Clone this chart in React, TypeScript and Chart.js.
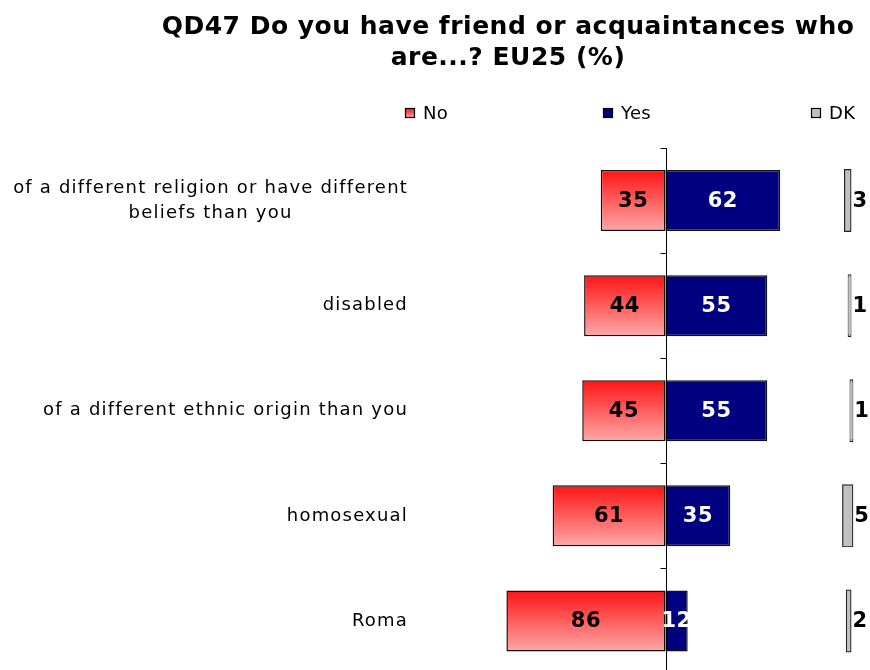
import React, { useEffect, useRef } from "react";
import { Chart, registerables } from "chart.js";

Chart.register(...registerables);

const TITLE_LINES = ["QD47 Do you have friend or acquaintances who", "are...? EU25 (%)"];
const CATEGORIES = [
  ["of a different religion or have different", "beliefs than you"],
  ["disabled"],
  ["of a different ethnic origin than you"],
  ["homosexual"],
  ["Roma"],
];
const NO_VALUES = [35, 44, 45, 61, 86];
const YES_VALUES = [62, 55, 55, 35, 12];
const DK_VALUES = [3, 1, 1, 5, 2];
const SERIES_NAMES = ["No", "Yes", "DK"];

const X_MIN = -130;
const X_MAX = 110;
const BAR_FRACTION = 0.58;

const FONT = "'DejaVu Sans', Verdana, sans-serif";
const NAVY = "#000080";
const SILVER = "#C0C0C0";
const RED_TOP = "#FF1414";
const RED_BOTTOM = "#FFA8A8";

function redGradient(ctx: CanvasRenderingContext2D, y0: number, y1: number) {
  const g = ctx.createLinearGradient(0, y0, 0, y1);
  g.addColorStop(0, RED_TOP);
  g.addColorStop(1, RED_BOTTOM);
  return g;
}

const decorPlugin = {
  id: "decor",
  afterDatasetsDraw(chart: any) {
    const { ctx, chartArea, scales } = chart;
    const xs = scales.x;
    const ys = scales.y;
    const x0 = Math.round(xs.getPixelForValue(0)) + 0.5;
    ctx.save();
    ctx.strokeStyle = "#000";
    ctx.lineWidth = 1;
    ctx.beginPath();
    ctx.moveTo(x0, chartArea.top);
    ctx.lineTo(x0, chartArea.bottom);
    ctx.stroke();
    for (let i = 0; i <= CATEGORIES.length; i++) {
      const y = Math.round(ys.getPixelForValue(i - 0.5)) + 0.5;
      ctx.beginPath();
      ctx.moveTo(x0 - 6, y);
      ctx.lineTo(x0, y);
      ctx.stroke();
    }

    (ctx as any).letterSpacing = "0.5px";
    ctx.font = `bold 21px ${FONT}`;
    ctx.textBaseline = "middle";
    const metaNo = chart.getDatasetMeta(0);
    const metaYes = chart.getDatasetMeta(1);
    const metaDk = chart.getDatasetMeta(3);
    metaNo.data.forEach((el: any, i: number) => {
      const { x, base, y } = el.getProps(["x", "base", "y"], true);
      ctx.fillStyle = "#000";
      ctx.textAlign = "center";
      ctx.fillText(String(NO_VALUES[i]), (x + base) / 2, y + 1);
    });
    metaYes.data.forEach((el: any, i: number) => {
      const { x, base, y } = el.getProps(["x", "base", "y"], true);
      ctx.fillStyle = "#fff";
      ctx.textAlign = "center";
      ctx.fillText(String(YES_VALUES[i]), (x + base) / 2, y + 1);
    });
    metaDk.data.forEach((el: any, i: number) => {
      const { x, y } = el.getProps(["x", "y"], true);
      ctx.fillStyle = "#000";
      ctx.textAlign = "left";
      ctx.fillText(String(DK_VALUES[i]), x + 2, y + 1);
    });

    (ctx as any).letterSpacing = "1.2px";
    ctx.font = `18px ${FONT}`;
    ctx.fillStyle = "#000";
    ctx.textAlign = "center";
    const right = chartArea.left - 17;
    const lineH = 25;
    CATEGORIES.forEach((lines, i) => {
      const yc = ys.getPixelForValue(i);
      const w = Math.max(...lines.map((l) => ctx.measureText(l).width));
      const cx = right - w / 2;
      lines.forEach((l, k) => {
        const y = yc + (k - (lines.length - 1) / 2) * lineH;
        ctx.fillText(l, cx, y);
      });
    });
    ctx.restore();
  },
  afterDraw(chart: any) {
    const { ctx } = chart;
    ctx.save();
    (ctx as any).letterSpacing = "0.5px";
    ctx.font = `bold 25px ${FONT}`;
    ctx.fillStyle = "#000";
    ctx.textAlign = "center";
    ctx.textBaseline = "alphabetic";
    ctx.fillText(TITLE_LINES[0], 508, 34);
    ctx.fillText(TITLE_LINES[1], 508, 65);

    (ctx as any).letterSpacing = "0.3px";
    ctx.font = `18px ${FONT}`;
    ctx.textBaseline = "middle";
    ctx.textAlign = "left";
    const items = [
      { name: SERIES_NAMES[0], x: 405, fill: redGradient(ctx, 108, 118) as any },
      { name: SERIES_NAMES[1], x: 603, fill: NAVY },
      { name: SERIES_NAMES[2], x: 811, fill: SILVER },
    ];
    items.forEach((it) => {
      ctx.fillStyle = it.fill;
      ctx.fillRect(it.x, 108, 10, 10);
      ctx.strokeStyle = "#000";
      ctx.lineWidth = 1.2;
      ctx.strokeRect(it.x + 0.5, 108.5, 9, 9);
      ctx.fillStyle = "#000";
      ctx.fillText(it.name, it.x + 18, 114);
    });
    ctx.restore();
  },
};

export default function App() {
  const ref = useRef<HTMLCanvasElement | null>(null);
  useEffect(() => {
    if (!ref.current) return;
    const chart = new Chart(ref.current, {
      type: "bar",
      data: {
        labels: CATEGORIES.map((c) => c.join(" ")),
        datasets: [
          {
            label: SERIES_NAMES[0],
            data: NO_VALUES.map((v) => -v),
            backgroundColor: (c: any) => {
              const ch = c.chart;
              const ys = ch.scales?.y;
              if (!ys || !ch.chartArea || c.type !== "data") return RED_TOP;
              const p0 = ys.getPixelForValue(0);
              const p1 = ys.getPixelForValue(1);
              const yc = ys.getPixelForValue(c.dataIndex);
              if (![p0, p1, yc].every((v) => Number.isFinite(v))) return RED_TOP;
              const h = (p1 - p0) * BAR_FRACTION;
              if (!(h > 0)) return RED_TOP;
              return redGradient(ch.ctx, yc - h / 2, yc + h / 2);
            },
            borderColor: "#111",
            borderWidth: 1.5,
            borderSkipped: false,
          },
          {
            label: SERIES_NAMES[1],
            data: YES_VALUES,
            backgroundColor: NAVY,
            borderColor: "#111",
            borderWidth: 1.5,
            borderSkipped: false,
          },
          {
            label: "spacer",
            data: NO_VALUES,
            backgroundColor: "rgba(0,0,0,0)",
            borderWidth: 0,
          },
          {
            label: SERIES_NAMES[2],
            data: DK_VALUES,
            backgroundColor: SILVER,
            borderColor: "#222",
            borderWidth: 1.2,
            borderSkipped: false,
            inflateAmount: 1,
          },
        ],
      },
      options: {
        indexAxis: "y",
        responsive: false,
        animation: false,
        datasets: {
          bar: { categoryPercentage: 1, barPercentage: BAR_FRACTION },
        },
        layout: { padding: { left: 425, right: 1, top: 148, bottom: 2.5 } },
        scales: {
          x: { stacked: true, min: X_MIN, max: X_MAX, display: false },
          y: { stacked: true, display: false },
        },
        plugins: {
          legend: { display: false },
          title: { display: false },
          tooltip: { enabled: false },
        },
      } as any,
      plugins: [decorPlugin],
    });
    return () => chart.destroy();
  }, []);
  return (
    <div
      style={{
        position: "fixed",
        left: 0,
        top: 0,
        width: 870,
        height: 670,
        overflow: "hidden",
        background: "#fff",
      }}
    >
      <canvas ref={ref} width={870} height={676} style={{ display: "block", width: 870, height: 676 }} />
    </div>
  );
}
